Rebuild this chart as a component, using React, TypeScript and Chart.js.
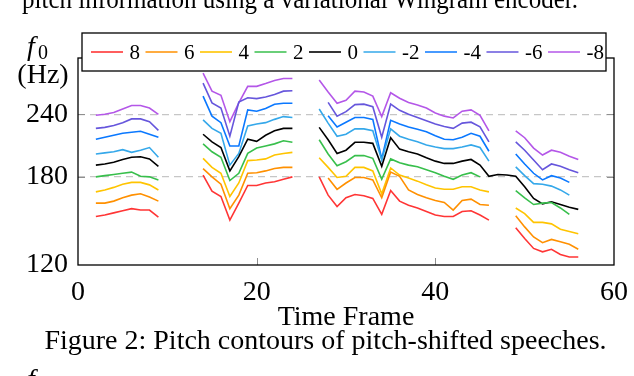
import React, { useEffect, useRef } from "react";
import { Chart, registerables } from "chart.js";

Chart.register(...registerables);

const N = null;

// f0 values (Hz) per time frame 0..56, null = unvoiced / no value
const shift8 = [N, N, 150, 151, 152.5, 154, 155.5, 154.5, 154.5, 149.5, N, N, N, N,
  181.5, 168.5, 164.5, 147.5, 159.5, 173, 173, 175, 176, 178, 180, N, N,
  180, 165.5, 157, 163.5, 166, 165, 163, 151.5, 169, 161, 158, 156, 153.5, 151, 150, 150, 153.5, 154, 151, 147.5, N, N,
  142.5, 135.5, 129.5, 127.5, 129, 126, 124.5, 124.5];
const shift6 = [N, N, 159.5, 159.5, 161, 163.5, 165.5, 166.5, 164, 161, N, N, N, N,
  187, 180, 174, 155.5, 165.5, 183, 183.5, 185, 187, 188, 188, N, N,
  N, 179, 170, 175, 179.5, 179.5, 177.5, 163.5, 184, 180.5, 169.5, 166, 163.5, 161.5, 160, 154.5, 161.5, 162.5, 158.5, 158, N, N,
  150.5, 143, 136.5, 133, 135, 133.5, 132, 129];
const shift4 = [N, N, 168, 169.5, 171.5, 174, 175.5, 175.5, 173.5, 169.5, N, N, N, N,
  196, 188, 183, 164.5, 175, 194, 194.5, 195.5, 199, 200.5, 201.5, N, N,
  196.5, 188, 179.5, 180.5, 188, 188, 185, 166.5, 187.5, 181.5, 179, 176.5, 173.5, 171, 170, 170, 172, 172, 169.5, 168, N, N,
  156, 152, 146, 146, 145, 141.5, 140, 138.5];
const shift2 = [N, N, 180, 181, 182, 183, 184, 180.5, 180, 177.5, N, N, N, N,
  209.5, 202, 197, 177, 183, 200.5, 205.5, 207.5, 209.5, 212.5, 211, N, N,
  213.5, 200, 189.5, 193, 198.5, 198.5, 196, 178, 195.5, 192, 190, 188.5, 186, 183.5, 180.5, 178, 181.5, 183.5, 180, N, N, N,
  169, 163.5, 158.5, 159.5, 160, 156, 151.5, N];
const shift0 = [N, N, 190, 191, 192.5, 195, 197, 197.5, 195.5, 189, N, N, N, N,
  219, 211.5, 206, 185, 197.5, 214, 212, 218, 222.5, 225, 225, N, N,
  226, 213.5, 200.5, 203.5, 211, 211, 210, 189, 215.5, 204.5, 202, 200, 196.5, 193.5, 191.5, 191.5, 193.5, 195, 190, 180.5, 182, 181.5,
  180.5, 172, 163, 159, 160.5, 158.5, 156.5, 155];
const shiftM2 = [N, N, 200, 201, 202, 204, 201.5, 203.5, 206, 197, N, N, N, N,
  234, 225, 220, 190, 200.5, 227.5, 229.5, 231, 234.5, 237.5, 236.5, N, N,
  246, 230.5, 217, 219, 224.5, 224.5, 222.5, 194.5, 224.5, 217, 214, 211.5, 208.5, 206.5, 205, 205, 206.5, 208.5, 206, 193.5, N, N,
  188.5, 181, 174.5, 174, 172.5, 169.5, 165.5, N];
const shiftM4 = [N, N, 214, 216, 218, 220, 221, 222, 219, 216, N, N, N, N,
  261, 238, 231, 207.5, 207.5, 245, 243.5, 246.5, 251.5, 252.5, 252.5, N, N,
  N, 238.5, 226.5, 231.5, 236.5, 236.5, 234.5, 195.5, 233.5, 229.5, 226.5, 224, 221.5, 217.5, 214, 213.5, 216, 220, 217, 202.5, N, N,
  200, 191, 183, 177.5, 181, 179, 175.5, N];
const shiftM6 = [N, N, 225, 226, 228, 231, 235, 235, 232, 223, N, N, N, N,
  277, 253, 247, 217, 254, 259, 258, 260, 263, 267, 267.5, N, N,
  N, 253.5, 238, 243, 251, 251.5, 248.5, 216, 251.5, 244.5, 240, 236.5, 233, 229.5, 227, 225, 230.5, 231.5, 226.5, 211.5, N, N,
  211.5, 203.5, 194.5, 186, 191, 189, 186, 183.5];
const shiftM8 = [N, N, 239, 240, 242, 246, 250, 250, 247, 240, N, N, N, N,
  290, 267, 262, 232, 253, 273, 273, 276.5, 280.5, 283, 283, N, N,
  281, 266, 252.5, 256, 267, 266, 261, 237.5, 265, 258.5, 253.5, 250.5, 247, 241.5, 238, 236, 243.5, 245, 239, 222.5, N, N,
  222.5, 215.5, 205.5, 199, 203.5, 201.5, 198, 195];

const SERIES = [shift8, shift6, shift4, shift2, shift0, shiftM2, shiftM4, shiftM6, shiftM8];
const SERIES_LABELS = ["8", "6", "4", "2", "0", "-2", "-4", "-6", "-8"];
const SERIES_COLORS = ["#ff3535", "#ff9000", "#ffc400", "#38bf4c", "#000000", "#35a8ea", "#0a78ff", "#6656dc", "#b457e8"];

const X_TICKS = [0, 20, 40, 60];
const Y_TICKS = [120, 180, 240];
const Y_MIN = 120;
const Y_MAX = 311;

const X_TITLE = "Time Frame";
const CAPTION = "Figure 2: Pitch contours of pitch-shifted speeches.";
const TOP_TEXT = "pitch information using a variational Wingram encoder.";

const SERIF = '"Liberation Serif", "Times New Roman", serif';

const decorPlugin = {
  id: "decor",
  afterDatasetsDraw(chart: any) {
    const { ctx, chartArea: a, scales } = chart;
    ctx.save();
    // tick marks (inside)
    ctx.strokeStyle = "#8f8f8f";
    ctx.lineWidth = 1;
    for (const v of X_TICKS) {
      if (v === X_TICKS[0] || v === X_TICKS[X_TICKS.length - 1]) continue;
      const px = Math.round(scales.x.getPixelForValue(v)) + 0.5;
      ctx.beginPath();
      ctx.moveTo(px, a.bottom);
      ctx.lineTo(px, a.bottom - 7);
      ctx.stroke();
    }
    for (const v of Y_TICKS) {
      if (v === Y_MIN) continue;
      const py = Math.round(scales.y.getPixelForValue(v)) + 0.5;
      ctx.beginPath();
      ctx.moveTo(a.left, py);
      ctx.lineTo(a.left + 7, py);
      ctx.moveTo(a.right, py);
      ctx.lineTo(a.right - 7, py);
      ctx.stroke();
    }
    // frame
    ctx.strokeStyle = "#000";
    ctx.lineWidth = 1.3;
    ctx.strokeRect(a.left, a.top, a.right - a.left, a.bottom - a.top);
    ctx.restore();
  },
  afterDraw(chart: any) {
    const { ctx, chartArea: a } = chart;
    ctx.save();
    // legend box
    const lx = a.left + 4;
    const ly = a.top - 25;
    const lw = a.right - 8 - lx;
    const lh = 38;
    ctx.fillStyle = "#fff";
    ctx.fillRect(lx, ly, lw, lh);
    ctx.strokeStyle = "#000";
    ctx.lineWidth = 1.3;
    ctx.strokeRect(lx, ly, lw, lh);
    ctx.font = `21px ${SERIF}`;
    ctx.textBaseline = "middle";
    ctx.textAlign = "left";
    let x = lx + 9;
    const cy = ly + lh / 2;
    chart.data.datasets.forEach((ds: any) => {
      ctx.strokeStyle = ds.borderColor;
      ctx.lineWidth = 1.6;
      ctx.beginPath();
      ctx.moveTo(x, cy);
      ctx.lineTo(x + 32, cy);
      ctx.stroke();
      ctx.fillStyle = "#000";
      ctx.fillText(ds.label, x + 38.5, cy + 1);
      x += 38.5 + ctx.measureText(ds.label).width + 5.5;
    });

    // y axis label f0 (Hz)
    ctx.fillStyle = "#000";
    ctx.textBaseline = "alphabetic";
    ctx.font = `italic 28px ${SERIF}`;
    ctx.fillText("f", 27, 55);
    ctx.font = `20px ${SERIF}`;
    ctx.fillText("0", 38, 59);
    ctx.font = `28px ${SERIF}`;
    ctx.textAlign = "center";
    ctx.fillText("(Hz)", 43, 83);

    // x title and caption
    const cx = (a.left + a.right) / 2;
    ctx.fillText(X_TITLE, cx, 325);
    ctx.fillText(CAPTION, 325.5, 349);

    // surrounding page text (cut off)
    ctx.textAlign = "left";
    ctx.fillText(TOP_TEXT, 22, 8, 556);
    ctx.font = `italic 28px ${SERIF}`;
    ctx.fillText("f", 27, 388);
    ctx.restore();
  },
};

export default function App() {
  const ref = useRef<HTMLCanvasElement | null>(null);
  useEffect(() => {
    const canvas = ref.current;
    if (!canvas) return;
    const chart = new Chart(canvas, {
      type: "line",
      data: {
        datasets: SERIES.map((s, i) => ({
          label: SERIES_LABELS[i],
          data: s.map((v, k) => ({ x: k, y: v })),
          borderColor: SERIES_COLORS[i],
          backgroundColor: SERIES_COLORS[i],
          borderWidth: 1.6,
          pointRadius: 0,
          tension: 0,
          spanGaps: false,
          fill: false,
        })),
      },
      options: {
        animation: false,
        responsive: false,
        devicePixelRatio: 1,
        layout: { padding: { left: 0, right: 14, top: 58, bottom: 0 } },
        plugins: { legend: { display: false }, tooltip: { enabled: false } },
        scales: {
          x: {
            type: "linear",
            min: 0,
            max: 60,
            afterBuildTicks: (s: any) => {
              s.ticks = X_TICKS.map((v) => ({ value: v }));
            },
            afterFit: (s: any) => {
              s.height = 111;
            },
            grid: { display: false },
            border: { display: false },
            ticks: {
              color: "#000",
              padding: 6,
              maxRotation: 0,
              font: { family: SERIF, size: 28, lineHeight: 1 },
              callback: (v: any) => String(v),
            },
          },
          y: {
            type: "logarithmic",
            min: Y_MIN,
            max: Y_MAX,
            afterBuildTicks: (s: any) => {
              s.ticks = Y_TICKS.map((v) => ({ value: v }));
            },
            afterFit: (s: any) => {
              s.width = 78;
            },
            grid: {
              color: (c: any) => (c.tick && c.tick.value !== Y_MIN ? "#c6c6c6" : "rgba(0,0,0,0)"),
              lineWidth: 1.3,
              drawTicks: false,
            },
            border: { display: false, dash: [7, 5] },
            ticks: {
              color: "#000",
              padding: 10,
              font: { family: SERIF, size: 28, lineHeight: 1 },
              callback: (v: any) => String(v),
            },
          },
        },
      },
      plugins: [decorPlugin],
    } as any);
    return () => chart.destroy();
  }, []);
  return (
    <div style={{ position: "absolute", left: 0, top: 0, width: 634, height: 376, background: "#fff" }}>
      <canvas ref={ref} width={634} height={376} />
    </div>
  );
}
